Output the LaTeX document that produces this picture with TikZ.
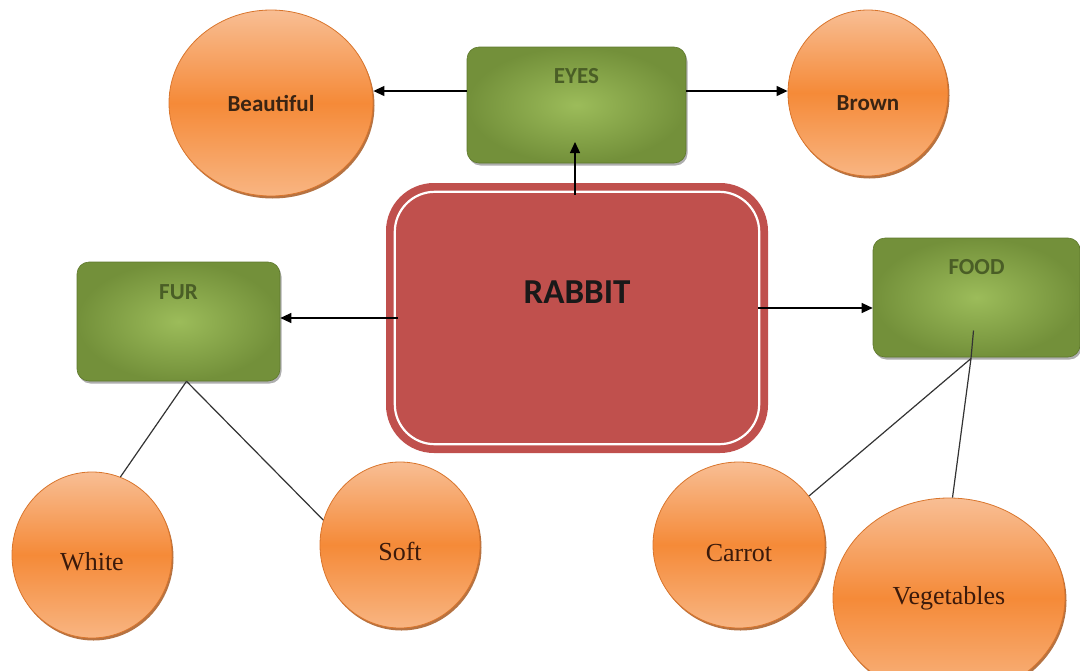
\documentclass[tikz,border=0pt]{standalone}
\usepackage{fontspec}
\setmainfont{Liberation Serif}
\newfontfamily\calib{Carlito}
\usetikzlibrary{shapes.geometric,shadows,arrows.meta,calc}
\definecolor{orTop}{HTML}{F8BE94}
\definecolor{orMid}{HTML}{F58A38}
\definecolor{orBot}{HTML}{F8B582}
\definecolor{orEdge}{HTML}{D9752C}
\definecolor{orShadow}{HTML}{A85A22}
\definecolor{gIn}{HTML}{9CBC5A}
\definecolor{gOut}{HTML}{73903A}
\definecolor{gEdge}{HTML}{5E782C}
\definecolor{gText}{HTML}{4A5E26}
\definecolor{rabRed}{HTML}{C0504D}
\definecolor{brownTxt}{HTML}{3A2413}
\definecolor{serifTxt}{HTML}{3B1A0B}
\begin{document}
\begin{tikzpicture}[x=1pt,y=-1pt,
  ell/.style={ellipse, draw=orEdge, line width=0.8pt, top color=orTop, bottom color=orBot, middle color=orMid,
    inner sep=0pt, drop shadow={shadow xshift=1.5pt, shadow yshift=-2.5pt, fill=orShadow, opacity=0.85}},
  sanslbl/.style={font=\calib\bfseries\fontsize{23}{26}\selectfont, text=brownTxt},
  seriflbl/.style={font=\fontsize{26}{30}\selectfont, text=serifTxt},
  gbox/.style={rectangle, rounded corners=12pt, draw=gEdge, line width=0.6pt, inner color=gIn, outer color=gOut,
    inner sep=0pt, drop shadow={shadow xshift=1.5pt, shadow yshift=-2.5pt, fill=black!70, opacity=0.45},
    font=\calib\bfseries\fontsize{23}{26}\selectfont, text=gText, text height=15pt},
  rabbitbox/.style={rectangle, rounded corners=48pt, fill=rabRed, inner sep=0pt,
    font=\calib\bfseries\fontsize{35}{40}\selectfont, text=black!90},
  arr/.style={-{Triangle[length=11pt,width=10pt]}, line width=1.2pt, draw=black},
  ln/.style={line width=1.2pt, draw=black!80}
]
\useasboundingbox (0,0) rectangle (1080,670);

% central node
\node[rabbitbox, minimum width=382pt, minimum height=270pt, text height=22.5pt, text depth=51pt] (rabbit) at (577,318) {RABBIT};
\draw[white, line width=2.2pt, rounded corners=40pt] ([shift={(9,9)}]rabbit.north west) rectangle ([shift={(-9,-9)}]rabbit.south east);

% green boxes
\node[gbox, minimum width=219pt, minimum height=116pt, text depth=58pt] (eyes) at (576.5,105) {EYES};
\node[gbox, minimum width=203pt, minimum height=119pt, text depth=59pt] (fur) at (178.5,321.5) {FUR};
\node[gbox, minimum width=207pt, minimum height=119pt, text depth=61pt] (food) at (976.5,297.5) {FOOD};

% orange ellipses
\node[ell, sanslbl, minimum width=204pt, minimum height=186pt] (beautiful) at (271,103) {Beautiful};
\node[ell, sanslbl, minimum width=160pt, minimum height=166pt, text height=35pt, text depth=0pt] (brown) at (868,93) {Brown};
\node[ell, seriflbl, minimum width=160pt, minimum height=166pt, text height=31pt, text depth=0pt] (white) at (92,555) {White};
\node[ell, seriflbl, minimum width=160pt, minimum height=166pt, text height=31pt, text depth=0pt] (soft) at (400,545) {Soft};
\node[ell, seriflbl, minimum width=172pt, minimum height=166pt, text height=33pt, text depth=0pt] (carrot) at (739,545) {Carrot};
\node[ell, seriflbl, minimum width=232pt, minimum height=200pt] (veg) at (949,598) {Vegetables};

% arrows
\coordinate (e1) at ([yshift=14pt]eyes.west);
\coordinate (e2) at ([yshift=14pt]eyes.east);
\draw[arr] (e1) -- (e1 -| beautiful.east);
\draw[arr] (e2) -- (e2 -| brown.west);
\draw[arr] ([xshift=-2pt,yshift=-12pt]rabbit.north) -- ([xshift=-1.5pt,yshift=-37pt]eyes.center);
\coordinate (r1) at ([xshift=12pt]rabbit.west);
\draw[arr] (r1) -- (r1 -| fur.east);
\coordinate (r2) at ([xshift=-10pt,yshift=10pt]rabbit.east);
\draw[arr] (r2) -- (r2 -| food.west);

% plain lines
\coordinate (furjoin) at ([xshift=8pt]fur.south);
\draw[ln] (furjoin) -- (white.70);
\draw[ln] (furjoin) -- (soft.162);
\coordinate (foodtop) at ([xshift=-3pt,yshift=-33pt]food.center);
\coordinate (fork) at ([xshift=-5.5pt,yshift=-61pt]food.center);
\draw[ln] (foodtop) -- (fork) -- (carrot.35);
\draw[ln] (fork) -- (veg.88);
\end{tikzpicture}
\end{document}
